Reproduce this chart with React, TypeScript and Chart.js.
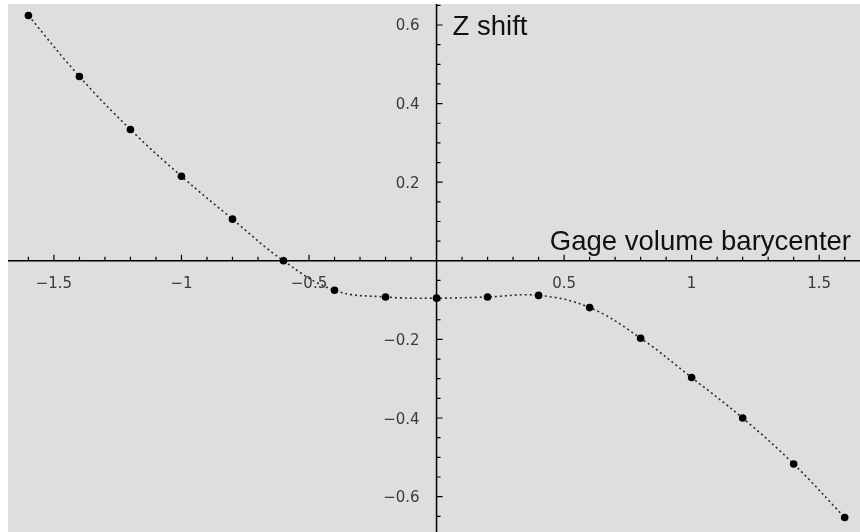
import { useEffect, useRef } from 'react';
import { Chart, registerables } from 'chart.js';

Chart.register(...registerables);

// Data
const gageBarycenter = [-1.6, -1.4, -1.2, -1.0, -0.8, -0.6, -0.4, -0.2, 0.0, 0.2, 0.4, 0.6, 0.8, 1.0, 1.2, 1.4, 1.6];
const zShift = [0.624, 0.469, 0.334, 0.215, 0.106, 0.0, -0.075, -0.092, -0.095, -0.092, -0.088, -0.119, -0.197, -0.297, -0.4, -0.517, -0.653];

const xTickLabels = [-1.5, -1, -0.5, 0.5, 1, 1.5];
const yTickLabels = [-0.6, -0.4, -0.2, 0.2, 0.4, 0.6];
const xMinorTicks = [-1.6, -1.5, -1.4, -1.3, -1.2, -1.1, -1.0, -0.9, -0.8, -0.7, -0.6, -0.5, -0.4, -0.3, -0.2, -0.1, 0.1, 0.2, 0.3, 0.4, 0.5, 0.6, 0.7, 0.8, 0.9, 1.0, 1.1, 1.2, 1.3, 1.4, 1.5, 1.6];
const yMinorTicks = [-0.65, -0.6, -0.55, -0.5, -0.45, -0.4, -0.35, -0.3, -0.25, -0.2, -0.15, -0.1, -0.05, 0.05, 0.1, 0.15, 0.2, 0.25, 0.3, 0.35, 0.4, 0.45, 0.5, 0.55, 0.6, 0.65];

const xTitle = 'Gage volume barycenter';
const yTitle = 'Z shift';

const fmt = (v: number) => (v < 0 ? '\u2212' : '') + String(Math.abs(v));

const mathAxes = {
  id: 'mathAxes',
  beforeDraw(chart: any) {
    const { ctx, chartArea: a } = chart;
    ctx.save();
    ctx.fillStyle = '#dedede';
    ctx.fillRect(a.left, a.top, a.right - a.left, a.bottom - a.top);
    ctx.restore();
  },
  beforeDatasetsDraw(chart: any) {
    const { ctx, chartArea: a, scales } = chart;
    const xs = scales.x;
    const ys = scales.y;
    const x0 = xs.getPixelForValue(0);
    const y0 = ys.getPixelForValue(0);
    ctx.save();
    // axis lines
    ctx.strokeStyle = '#000';
    ctx.lineWidth = 1.5;
    ctx.beginPath();
    ctx.moveTo(a.left, y0);
    ctx.lineTo(a.right, y0);
    ctx.moveTo(x0, a.top);
    ctx.lineTo(x0, a.bottom);
    ctx.stroke();
    // ticks
    ctx.lineWidth = 1.2;
    ctx.beginPath();
    xMinorTicks.forEach((v) => {
      const px = xs.getPixelForValue(v);
      const major = xTickLabels.some((t) => Math.abs(t - v) < 1e-6);
      ctx.moveTo(px, y0);
      ctx.lineTo(px, y0 - (major ? 6 : 4));
    });
    yMinorTicks.forEach((v) => {
      const py = ys.getPixelForValue(v);
      const major = yTickLabels.some((t) => Math.abs(t - v) < 1e-6);
      ctx.moveTo(x0, py);
      ctx.lineTo(x0 + (major ? 6 : 4), py);
    });
    ctx.stroke();
    // tick labels
    ctx.fillStyle = '#3a3a3a';
    ctx.font = '15px "DejaVu Sans"';
    ctx.textBaseline = 'alphabetic';
    ctx.textAlign = 'center';
    xTickLabels.forEach((v) => {
      ctx.fillText(fmt(v), xs.getPixelForValue(v), y0 + 27);
    });
    ctx.textAlign = 'right';
    yTickLabels.forEach((v) => {
      ctx.fillText(fmt(v), x0 - 17, ys.getPixelForValue(v) + 5.5);
    });
    // axis titles
    ctx.fillStyle = '#111';
    ctx.font = '27.5px "Liberation Sans", Arial, sans-serif';
    ctx.textAlign = 'left';
    ctx.fillText(yTitle, x0 + 16, a.top + 31);
    ctx.textAlign = 'right';
    ctx.fillText(xTitle, a.right - 9, y0 - 11);
    ctx.restore();
  },
};

export default function App() {
  const ref = useRef<HTMLCanvasElement | null>(null);
  useEffect(() => {
    if (!ref.current) return;
    const chart = new Chart(ref.current, {
      type: 'line',
      data: {
        datasets: [
          {
            data: gageBarycenter.map((x, i) => ({ x, y: zShift[i] })),
            borderColor: '#2a2a2a',
            borderWidth: 1.6,
            borderDash: [2, 3],
            tension: 0.4,
            fill: false,
            pointRadius: 3.8,
            pointBackgroundColor: '#000',
            pointBorderWidth: 0,
            clip: false as any,
          },
        ],
      },
      options: {
        animation: false,
        responsive: false,
        layout: { autoPadding: false, padding: { left: 8, top: 4, right: 0, bottom: 0 } },
        scales: {
          x: { type: 'linear', min: -1.68, max: 1.66, display: false },
          y: { type: 'linear', min: -0.69, max: 0.6534, display: false },
        },
        plugins: { legend: { display: false }, tooltip: { enabled: false } },
      },
      plugins: [mathAxes],
    });
    return () => chart.destroy();
  }, []);
  return (
    <div style={{ position: 'absolute', left: 0, top: 0, width: 860, height: 532, background: '#fff' }}>
      <canvas ref={ref} width={860} height={532} style={{ display: 'block' }} />
    </div>
  );
}
